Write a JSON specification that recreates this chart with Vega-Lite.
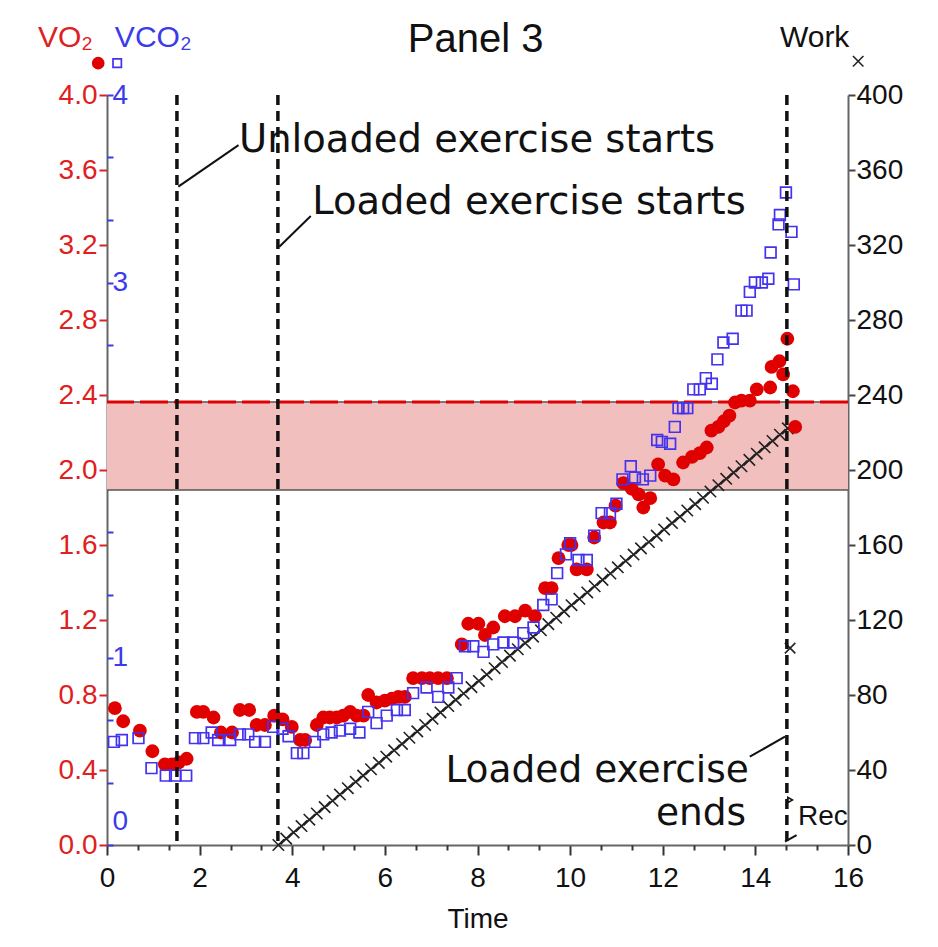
{
  "$schema": "https://vega.github.io/schema/vega-lite/v6.json",
  "width": 741,
  "height": 750,
  "autosize": {"type": "none"},
  "padding": {"left": 107, "top": 95, "right": 90, "bottom": 102},
  "background": "white",
  "config": {
    "view": {"stroke": null},
    "axis": {"grid": false, "labelFont": "Liberation Sans", "titleFont": "Liberation Sans", "labelOverlap": false, "labelFlush": false}
  },
  "resolve": {"scale": {"y": "independent"}, "axis": {"x": "independent"}},
  "datasets": {
    "vo2": [
      {"t": 0.17, "v": 0.73}, {"t": 0.35, "v": 0.66}, {"t": 0.71, "v": 0.61}, {"t": 0.98, "v": 0.50},
      {"t": 1.25, "v": 0.43}, {"t": 1.40, "v": 0.43}, {"t": 1.55, "v": 0.44}, {"t": 1.72, "v": 0.46},
      {"t": 1.94, "v": 0.71}, {"t": 2.08, "v": 0.71}, {"t": 2.30, "v": 0.68}, {"t": 2.46, "v": 0.60},
      {"t": 2.70, "v": 0.60}, {"t": 2.87, "v": 0.72}, {"t": 3.07, "v": 0.72}, {"t": 3.23, "v": 0.64},
      {"t": 3.41, "v": 0.64}, {"t": 3.61, "v": 0.69}, {"t": 3.79, "v": 0.67}, {"t": 3.99, "v": 0.63},
      {"t": 4.17, "v": 0.56}, {"t": 4.28, "v": 0.56}, {"t": 4.53, "v": 0.64}, {"t": 4.67, "v": 0.68},
      {"t": 4.81, "v": 0.68}, {"t": 4.96, "v": 0.68}, {"t": 5.10, "v": 0.69}, {"t": 5.25, "v": 0.71},
      {"t": 5.39, "v": 0.69}, {"t": 5.54, "v": 0.69}, {"t": 5.64, "v": 0.80}, {"t": 5.82, "v": 0.76},
      {"t": 6.00, "v": 0.77}, {"t": 6.15, "v": 0.78}, {"t": 6.29, "v": 0.79}, {"t": 6.43, "v": 0.79},
      {"t": 6.61, "v": 0.89}, {"t": 6.80, "v": 0.89}, {"t": 6.97, "v": 0.89}, {"t": 7.15, "v": 0.89},
      {"t": 7.34, "v": 0.89}, {"t": 7.66, "v": 1.07}, {"t": 7.80, "v": 1.18}, {"t": 8.02, "v": 1.18},
      {"t": 8.16, "v": 1.12}, {"t": 8.34, "v": 1.16}, {"t": 8.59, "v": 1.22}, {"t": 8.81, "v": 1.22},
      {"t": 9.03, "v": 1.25}, {"t": 9.24, "v": 1.22}, {"t": 9.46, "v": 1.37}, {"t": 9.60, "v": 1.37},
      {"t": 9.75, "v": 1.53}, {"t": 9.96, "v": 1.60}, {"t": 10.03, "v": 1.60}, {"t": 10.14, "v": 1.47},
      {"t": 10.36, "v": 1.47}, {"t": 10.52, "v": 1.64}, {"t": 10.72, "v": 1.72}, {"t": 10.86, "v": 1.72},
      {"t": 10.98, "v": 1.81}, {"t": 11.15, "v": 1.93}, {"t": 11.33, "v": 1.90}, {"t": 11.48, "v": 1.87},
      {"t": 11.58, "v": 1.80}, {"t": 11.73, "v": 1.85}, {"t": 11.90, "v": 2.03}, {"t": 12.05, "v": 1.97},
      {"t": 12.23, "v": 1.95}, {"t": 12.44, "v": 2.04}, {"t": 12.63, "v": 2.07}, {"t": 12.80, "v": 2.09},
      {"t": 12.95, "v": 2.12}, {"t": 13.05, "v": 2.21}, {"t": 13.20, "v": 2.23}, {"t": 13.32, "v": 2.26},
      {"t": 13.44, "v": 2.29}, {"t": 13.56, "v": 2.36}, {"t": 13.70, "v": 2.37}, {"t": 13.88, "v": 2.37},
      {"t": 14.03, "v": 2.43}, {"t": 14.32, "v": 2.44}, {"t": 14.35, "v": 2.55}, {"t": 14.52, "v": 2.58},
      {"t": 14.60, "v": 2.51}, {"t": 14.69, "v": 2.70}, {"t": 14.81, "v": 2.42}, {"t": 14.86, "v": 2.23}
    ],
    "vco2": [
      {"t": 0.15, "v": 0.55}, {"t": 0.32, "v": 0.56}, {"t": 0.68, "v": 0.57}, {"t": 0.96, "v": 0.41},
      {"t": 1.27, "v": 0.37}, {"t": 1.47, "v": 0.37}, {"t": 1.71, "v": 0.37}, {"t": 1.90, "v": 0.57},
      {"t": 2.08, "v": 0.57}, {"t": 2.26, "v": 0.60}, {"t": 2.40, "v": 0.56}, {"t": 2.66, "v": 0.56},
      {"t": 2.87, "v": 0.59}, {"t": 3.05, "v": 0.59}, {"t": 3.20, "v": 0.55}, {"t": 3.41, "v": 0.55},
      {"t": 3.59, "v": 0.63}, {"t": 3.79, "v": 0.62}, {"t": 3.92, "v": 0.58}, {"t": 4.10, "v": 0.49},
      {"t": 4.24, "v": 0.49}, {"t": 4.49, "v": 0.55}, {"t": 4.67, "v": 0.59}, {"t": 4.85, "v": 0.60},
      {"t": 5.03, "v": 0.61}, {"t": 5.25, "v": 0.62}, {"t": 5.45, "v": 0.60}, {"t": 5.64, "v": 0.71},
      {"t": 5.82, "v": 0.65}, {"t": 6.04, "v": 0.69}, {"t": 6.26, "v": 0.72}, {"t": 6.43, "v": 0.72},
      {"t": 6.61, "v": 0.81}, {"t": 6.90, "v": 0.84}, {"t": 7.15, "v": 0.79}, {"t": 7.37, "v": 0.84},
      {"t": 7.55, "v": 0.89}, {"t": 7.73, "v": 1.06}, {"t": 7.91, "v": 1.06}, {"t": 8.13, "v": 1.03},
      {"t": 8.34, "v": 1.07}, {"t": 8.56, "v": 1.08}, {"t": 8.77, "v": 1.08}, {"t": 8.99, "v": 1.13},
      {"t": 9.21, "v": 1.16}, {"t": 9.42, "v": 1.28}, {"t": 9.60, "v": 1.31}, {"t": 9.72, "v": 1.45},
      {"t": 9.91, "v": 1.55}, {"t": 10.00, "v": 1.61}, {"t": 10.18, "v": 1.52}, {"t": 10.36, "v": 1.52},
      {"t": 10.52, "v": 1.65}, {"t": 10.68, "v": 1.77}, {"t": 10.86, "v": 1.77}, {"t": 11.00, "v": 1.82},
      {"t": 11.13, "v": 1.95}, {"t": 11.31, "v": 2.02}, {"t": 11.40, "v": 1.96}, {"t": 11.57, "v": 1.95},
      {"t": 11.73, "v": 1.97}, {"t": 11.88, "v": 2.16}, {"t": 11.98, "v": 2.15}, {"t": 12.16, "v": 2.14},
      {"t": 12.26, "v": 2.23}, {"t": 12.34, "v": 2.33}, {"t": 12.44, "v": 2.33}, {"t": 12.53, "v": 2.33},
      {"t": 12.66, "v": 2.43}, {"t": 12.80, "v": 2.43}, {"t": 12.93, "v": 2.49}, {"t": 13.06, "v": 2.46},
      {"t": 13.18, "v": 2.59}, {"t": 13.31, "v": 2.68}, {"t": 13.51, "v": 2.70}, {"t": 13.70, "v": 2.85},
      {"t": 13.81, "v": 2.85}, {"t": 13.88, "v": 2.95}, {"t": 13.99, "v": 3.00}, {"t": 14.14, "v": 3.00},
      {"t": 14.28, "v": 3.02}, {"t": 14.33, "v": 3.16}, {"t": 14.50, "v": 3.31}, {"t": 14.53, "v": 3.36},
      {"t": 14.66, "v": 3.48}, {"t": 14.78, "v": 3.27}, {"t": 14.83, "v": 2.99}
    ],
    "work": [
      {"t": 3.70, "w": 0}, {"t": 3.87, "w": 3.4}, {"t": 4.03, "w": 6.7}, {"t": 4.20, "w": 10.1},
      {"t": 4.37, "w": 13.5}, {"t": 4.53, "w": 16.8}, {"t": 4.70, "w": 20.2}, {"t": 4.87, "w": 23.6},
      {"t": 5.03, "w": 26.9}, {"t": 5.20, "w": 30.3}, {"t": 5.37, "w": 33.7}, {"t": 5.53, "w": 37.0},
      {"t": 5.70, "w": 40.4}, {"t": 5.87, "w": 43.8}, {"t": 6.03, "w": 47.1}, {"t": 6.20, "w": 50.5},
      {"t": 6.37, "w": 53.9}, {"t": 6.53, "w": 57.2}, {"t": 6.70, "w": 60.6}, {"t": 6.87, "w": 64.0},
      {"t": 7.03, "w": 67.3}, {"t": 7.20, "w": 70.7}, {"t": 7.37, "w": 74.1}, {"t": 7.53, "w": 77.4},
      {"t": 7.70, "w": 80.8}, {"t": 7.87, "w": 84.2}, {"t": 8.03, "w": 87.5}, {"t": 8.20, "w": 90.9},
      {"t": 8.37, "w": 94.3}, {"t": 8.53, "w": 97.6}, {"t": 8.70, "w": 101.0}, {"t": 8.87, "w": 104.4},
      {"t": 9.03, "w": 107.7}, {"t": 9.20, "w": 111.1}, {"t": 9.37, "w": 114.5}, {"t": 9.53, "w": 117.8},
      {"t": 9.70, "w": 121.2}, {"t": 9.87, "w": 124.6}, {"t": 10.03, "w": 127.9}, {"t": 10.20, "w": 131.3},
      {"t": 10.37, "w": 134.7}, {"t": 10.53, "w": 138.0}, {"t": 10.70, "w": 141.4}, {"t": 10.87, "w": 144.8},
      {"t": 11.03, "w": 148.1}, {"t": 11.20, "w": 151.5}, {"t": 11.37, "w": 154.9}, {"t": 11.53, "w": 158.2},
      {"t": 11.70, "w": 161.6}, {"t": 11.87, "w": 165.0}, {"t": 12.03, "w": 168.3}, {"t": 12.20, "w": 171.7},
      {"t": 12.37, "w": 175.1}, {"t": 12.53, "w": 178.4}, {"t": 12.70, "w": 181.8}, {"t": 12.87, "w": 185.2},
      {"t": 13.03, "w": 188.5}, {"t": 13.20, "w": 191.9}, {"t": 13.37, "w": 195.3}, {"t": 13.53, "w": 198.6},
      {"t": 13.70, "w": 202.0}, {"t": 13.87, "w": 205.4}, {"t": 14.03, "w": 208.7}, {"t": 14.20, "w": 212.1},
      {"t": 14.37, "w": 215.5}, {"t": 14.53, "w": 218.8}, {"t": 14.70, "w": 222.2}
    ],
    "work_marks": [{"t": 14.75, "w": 105}, {"t": 16.22, "w": 418}],
    "key_vo2": [{"t": -0.19, "v": 4.17}],
    "key_vco2": [{"t": 0.22, "v": 4.17}],
    "band": [{"lo": 1.893, "hi": 2.363}],
    "band_edges": [{"v": 2.363}, {"v": 1.893}],
    "threshold": [{"v": 2.363}],
    "phases": [{"t": 1.51}, {"t": 3.69}, {"t": 14.68}],
    "leaders": [
      {"t": 1.54, "v": 3.511, "t2": 2.84, "v2": 3.733},
      {"t": 3.72, "v": 3.191, "t2": 4.40, "v2": 3.355},
      {"t": 14.64, "v": 0.578, "t2": 13.88, "v2": 0.471},
      {"t": 14.64, "v": 0.018, "t2": 14.89, "v2": 0.053}
    ],
    "rec_arrow": [{"t": 14.75, "v": 0.24}],
    "notes_left": [
      {"t": 2.85, "v": 3.696, "label": "Unloaded exercise starts"},
      {"t": 4.43, "v": 3.368, "label": "Loaded exercise starts"}
    ],
    "notes_right": [
      {"t": 13.86, "v": 0.338, "label": "Loaded exercise"},
      {"t": 13.80, "v": 0.108, "label": "ends"}
    ],
    "hdr_vo2": [{"t": -1.49, "v": 4.256, "label": "VO₂"}],
    "hdr_vco2": [{"t": 0.17, "v": 4.256, "label": "VCO₂"}],
    "hdr_work": [{"t": 14.53, "v": 4.256, "label": "Work"}],
    "hdr_title": [{"t": 7.96, "v": 4.229, "label": "Panel 3"}],
    "rec_label": [{"t": 14.92, "v": 0.107, "label": "Rec"}]
  },
  "layer": [
    {
      "data": {"name": "band"},
      "mark": {"type": "rect", "fill": "#f2bfbf"},
      "encoding": {
        "x": {"datum": 0, "type": "quantitative", "scale": {"domain": [0, 16], "nice": false}, "axis": null},
        "x2": {"datum": 16},
        "y": {"field": "lo", "type": "quantitative", "scale": {"domain": [0, 4], "nice": false}, "axis": null},
        "y2": {"field": "hi"}
      }
    },
    {
      "data": {"name": "band_edges"},
      "mark": {"type": "rule", "stroke": "#555555", "strokeWidth": 1.6},
      "encoding": {
        "y": {"field": "v", "type": "quantitative", "scale": {"domain": [0, 4], "nice": false}, "axis": null}
      }
    },
    {
      "data": {"name": "threshold"},
      "mark": {"type": "rule", "stroke": "#e00000", "strokeWidth": 3, "strokeDash": [28, 6]},
      "encoding": {
        "y": {"field": "v", "type": "quantitative", "scale": {"domain": [0, 4], "nice": false}, "axis": null}
      }
    },
    {
      "data": {"name": "work"},
      "mark": {"type": "line", "stroke": "#222222", "strokeWidth": 1.6},
      "encoding": {
        "x": {"field": "t", "type": "quantitative", "scale": {"domain": [0, 16], "nice": false}, "axis": null},
        "y": {
          "field": "w", "type": "quantitative", "scale": {"domain": [0, 400], "nice": false},
          "axis": {
            "orient": "right", "values": [0, 40, 80, 120, 160, 200, 240, 280, 320, 360, 400],
            "tickSize": 7, "tickColor": "#444444", "tickWidth": 2, "domainColor": "#666666", "domainWidth": 2,
            "labelColor": "#111111", "labelFontSize": 28, "labelPadding": 1, "title": null
          }
        }
      }
    },
    {
      "data": {"name": "work"},
      "mark": {"type": "point", "shape": "M-1,-1L1,1M-1,1L1,-1", "filled": false, "stroke": "#222222", "strokeWidth": 1.6, "size": 130, "opacity": 1},
      "encoding": {
        "x": {"field": "t", "type": "quantitative", "scale": {"domain": [0, 16], "nice": false}, "axis": null},
        "y": {"field": "w", "type": "quantitative", "scale": {"domain": [0, 400], "nice": false}, "axis": null}
      }
    },
    {
      "data": {"name": "work_marks"},
      "mark": {"type": "point", "shape": "M-1,-1L1,1M-1,1L1,-1", "filled": false, "stroke": "#222222", "strokeWidth": 1.6, "size": 110, "opacity": 1},
      "encoding": {
        "x": {"field": "t", "type": "quantitative", "scale": {"domain": [0, 16], "nice": false}, "axis": null},
        "y": {"field": "w", "type": "quantitative", "scale": {"domain": [0, 400], "nice": false}, "axis": null}
      }
    },
    {
      "data": {"name": "vo2"},
      "mark": {"type": "circle", "fill": "#e00000", "opacity": 1, "size": 190},
      "encoding": {
        "x": {
          "field": "t", "type": "quantitative", "scale": {"domain": [0, 16], "nice": false},
          "axis": {
            "orient": "bottom", "values": [0, 2, 4, 6, 8, 10, 12, 14, 16],
            "tickSize": 10, "tickColor": "#333333", "tickWidth": 2, "domainColor": "#666666", "domainWidth": 2,
            "labelFontSize": 28, "labelColor": "#111111", "labelPadding": 9,
            "title": "Time", "titleFontSize": 28, "titleFontWeight": "normal", "titleColor": "#111111", "titlePadding": 13
          }
        },
        "y": {
          "field": "v", "type": "quantitative", "scale": {"domain": [0, 4], "nice": false},
          "axis": {
            "orient": "left", "values": [0, 0.4, 0.8, 1.2, 1.6, 2, 2.4, 2.8, 3.2, 3.6, 4], "format": ".1f",
            "tickSize": 8, "tickColor": "#e02020", "tickWidth": 2, "domainColor": "#666666", "domainWidth": 2,
            "labelColor": "#e02020", "labelFontSize": 28, "labelPadding": 2, "title": null
          }
        }
      }
    },
    {
      "data": {"name": "key_vo2"},
      "mark": {"type": "circle", "fill": "#e00000", "opacity": 1, "size": 160},
      "encoding": {
        "x": {"field": "t", "type": "quantitative", "scale": {"domain": [0, 16], "nice": false}, "axis": null},
        "y": {"field": "v", "type": "quantitative", "scale": {"domain": [0, 4], "nice": false}, "axis": null}
      }
    },
    {
      "data": {"name": "vco2"},
      "mark": {"type": "square", "filled": false, "stroke": "#4433ee", "strokeWidth": 1.7, "opacity": 1, "size": 115},
      "encoding": {
        "x": {"field": "t", "type": "quantitative", "scale": {"domain": [0, 16], "nice": false}, "axis": null},
        "y": {
          "field": "v", "type": "quantitative", "scale": {"domain": [0, 4], "nice": false},
          "axis": {
            "orient": "left",
            "values": [0, 0.3333, 0.6667, 1, 1.3333, 1.6667, 2, 2.3333, 2.6667, 3, 3.3333, 3.6667, 4],
            "labelExpr": "datum.value % 1 === 0 ? format(datum.value, 'd') : ''",
            "tickSize": -6, "tickColor": "#3b3bea", "tickWidth": 2, "domain": false,
            "labelAlign": "left", "labelPadding": 1, "labelColor": "#3b3bea", "labelFontSize": 28,
            "labelOffset": {"condition": {"test": "datum.value === 0", "value": -24}, "value": 0},
            "title": null
          }
        }
      }
    },
    {
      "data": {"name": "key_vco2"},
      "mark": {"type": "square", "filled": false, "stroke": "#4433ee", "strokeWidth": 1.7, "opacity": 1, "size": 70},
      "encoding": {
        "x": {"field": "t", "type": "quantitative", "scale": {"domain": [0, 16], "nice": false}, "axis": null},
        "y": {"field": "v", "type": "quantitative", "scale": {"domain": [0, 4], "nice": false}, "axis": null}
      }
    },
    {
      "data": {"name": "phases"},
      "mark": {"type": "rule", "stroke": "#111111", "strokeWidth": 3.5, "strokeDash": [10, 6]},
      "encoding": {
        "x": {
          "field": "t", "type": "quantitative", "scale": {"domain": [0, 16], "nice": false},
          "axis": {
            "orient": "bottom",
            "values": [0.6667, 1.3333, 2.6667, 3.3333, 4.6667, 5.3333, 6.6667, 7.3333, 8.6667, 9.3333, 10.6667, 11.3333, 12.6667, 13.3333, 14.6667, 15.3333],
            "tickSize": 5, "tickColor": "#333333", "tickWidth": 2, "labels": false, "domain": false, "title": null
          }
        }
      }
    },
    {
      "data": {"name": "leaders"},
      "mark": {"type": "rule", "stroke": "#111111", "strokeWidth": 2},
      "encoding": {
        "x": {"field": "t", "type": "quantitative", "scale": {"domain": [0, 16], "nice": false}, "axis": null},
        "x2": {"field": "t2"},
        "y": {"field": "v", "type": "quantitative", "scale": {"domain": [0, 4], "nice": false}, "axis": null},
        "y2": {"field": "v2"}
      }
    },
    {
      "data": {"name": "rec_arrow"},
      "mark": {"type": "point", "shape": "triangle-right", "filled": false, "stroke": "#111111", "strokeWidth": 1.5, "size": 30, "opacity": 1},
      "encoding": {
        "x": {"field": "t", "type": "quantitative", "scale": {"domain": [0, 16], "nice": false}, "axis": null},
        "y": {"field": "v", "type": "quantitative", "scale": {"domain": [0, 4], "nice": false}, "axis": null}
      }
    },
    {
      "data": {"name": "notes_left"},
      "mark": {"type": "text", "font": "DejaVu Sans", "fontSize": 38.5, "align": "left", "baseline": "alphabetic", "color": "#111111"},
      "encoding": {
        "x": {"field": "t", "type": "quantitative", "scale": {"domain": [0, 16], "nice": false}, "axis": null},
        "y": {"field": "v", "type": "quantitative", "scale": {"domain": [0, 4], "nice": false}, "axis": null},
        "text": {"field": "label"}
      }
    },
    {
      "data": {"name": "notes_right"},
      "mark": {"type": "text", "font": "DejaVu Sans", "fontSize": 37.5, "align": "right", "baseline": "alphabetic", "color": "#111111"},
      "encoding": {
        "x": {"field": "t", "type": "quantitative", "scale": {"domain": [0, 16], "nice": false}, "axis": null},
        "y": {"field": "v", "type": "quantitative", "scale": {"domain": [0, 4], "nice": false}, "axis": null},
        "text": {"field": "label"}
      }
    },
    {
      "data": {"name": "hdr_vo2"},
      "mark": {"type": "text", "font": "Liberation Sans", "fontSize": 30, "align": "left", "baseline": "alphabetic", "color": "#e02020"},
      "encoding": {
        "x": {"field": "t", "type": "quantitative", "scale": {"domain": [0, 16], "nice": false}, "axis": null},
        "y": {"field": "v", "type": "quantitative", "scale": {"domain": [0, 4], "nice": false}, "axis": null},
        "text": {"field": "label"}
      }
    },
    {
      "data": {"name": "hdr_vco2"},
      "mark": {"type": "text", "font": "Liberation Sans", "fontSize": 30, "align": "left", "baseline": "alphabetic", "color": "#3b3bea"},
      "encoding": {
        "x": {"field": "t", "type": "quantitative", "scale": {"domain": [0, 16], "nice": false}, "axis": null},
        "y": {"field": "v", "type": "quantitative", "scale": {"domain": [0, 4], "nice": false}, "axis": null},
        "text": {"field": "label"}
      }
    },
    {
      "data": {"name": "hdr_work"},
      "mark": {"type": "text", "font": "Liberation Sans", "fontSize": 30, "align": "left", "baseline": "alphabetic", "color": "#111111"},
      "encoding": {
        "x": {"field": "t", "type": "quantitative", "scale": {"domain": [0, 16], "nice": false}, "axis": null},
        "y": {"field": "v", "type": "quantitative", "scale": {"domain": [0, 4], "nice": false}, "axis": null},
        "text": {"field": "label"}
      }
    },
    {
      "data": {"name": "hdr_title"},
      "mark": {"type": "text", "font": "Liberation Sans", "fontSize": 40, "align": "center", "baseline": "alphabetic", "color": "#111111"},
      "encoding": {
        "x": {"field": "t", "type": "quantitative", "scale": {"domain": [0, 16], "nice": false}, "axis": null},
        "y": {"field": "v", "type": "quantitative", "scale": {"domain": [0, 4], "nice": false}, "axis": null},
        "text": {"field": "label"}
      }
    },
    {
      "data": {"name": "rec_label"},
      "mark": {"type": "text", "font": "Liberation Sans", "fontSize": 28, "align": "left", "baseline": "alphabetic", "color": "#111111"},
      "encoding": {
        "x": {"field": "t", "type": "quantitative", "scale": {"domain": [0, 16], "nice": false}, "axis": null},
        "y": {"field": "v", "type": "quantitative", "scale": {"domain": [0, 4], "nice": false}, "axis": null},
        "text": {"field": "label"}
      }
    }
  ]
}
